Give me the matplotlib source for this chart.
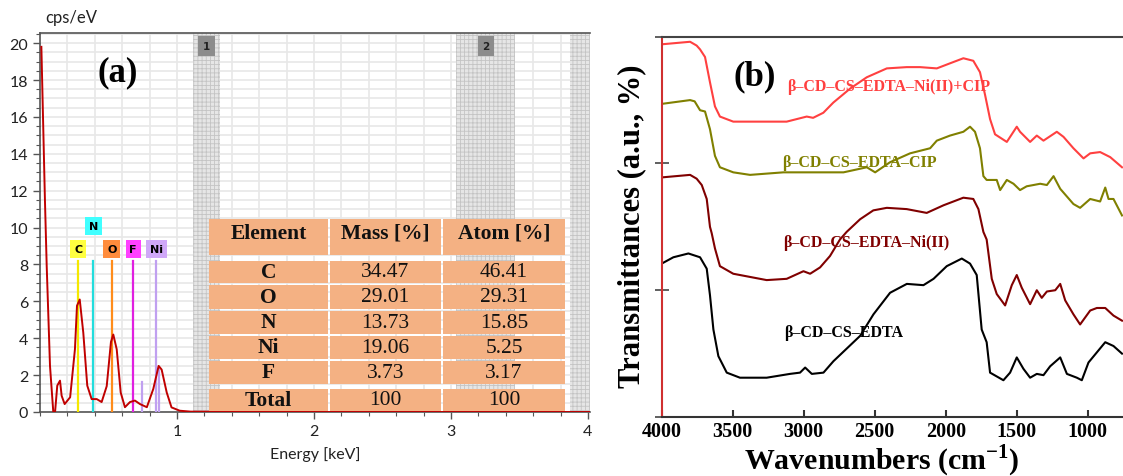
import matplotlib.pyplot as plt
from matplotlib.patches import Rectangle
import numpy as np

W, H = 1123, 477
SERIF = "Liberation Serif"
plt.rcParams["mathtext.fontset"] = "custom"
plt.rcParams["mathtext.rm"] = "Liberation Serif:bold"
plt.rcParams["mathtext.bf"] = "Liberation Serif:bold"
plt.rcParams["hatch.linewidth"] = 0.6

# ---- (a) EDS spectrum ----
eds_kev = [0.01, 0.036, 0.049, 0.073, 0.097, 0.11, 0.126, 0.146, 0.158, 0.18, 0.22,
           0.255, 0.27, 0.29, 0.316, 0.345, 0.377, 0.414, 0.45, 0.487, 0.518, 0.535,
           0.56, 0.589, 0.62, 0.657, 0.693, 0.73, 0.78, 0.827, 0.866, 0.888, 0.925,
           0.96, 1.02, 1.1, 2.0, 4.05]
eds_cps = [19.8, 11.5, 7.9, 2.5, 0.0, 0.0, 1.43, 1.7, 0.88, 0.43, 0.8,
           3.4, 5.76, 6.1, 4.3, 1.43, 0.7, 0.7, 0.54, 1.4, 3.8, 4.2,
           3.4, 1.06, 0.26, 0.54, 0.62, 0.43, 0.26, 1.25, 2.5, 2.3, 1.06,
           0.25, 0.07, 0.02, 0.0, 0.0]

elem_names = ["C", "N", "O", "F", "Ni"]
elem_kev = [0.28, 0.39, 0.525, 0.68, 0.85]
elem_label_y = [8.83, 10.1, 8.83, 8.83, 8.83]
elem_colors = ["#ffff40", "#40ffff", "#ff8c3c", "#ff40ff", "#d0a8f8"]
line_colors = ["#f5e800", "#22dddd", "#ff8c1a", "#e020e0", "#c0a0f0"]
ni_minor_kev = [0.745, 0.87]
ni_minor_h = [1.6, 2.4]

bands = [(1.115, 1.315), (3.04, 3.47), (3.87, 4.05)]
band_labels = ["1", "2"]

tbl_header = ["Element", "Mass [%]", "Atom [%]"]
tbl_elements = ["C", "O", "N", "Ni", "F", "Total"]
tbl_mass = ["34.47", "29.01", "13.73", "19.06", "3.73", "100"]
tbl_atom = ["46.41", "29.31", "15.85", "5.25", "3.17", "100"]

# ---- (b) FTIR ----
ftir_red_x = [4000, 3800, 3754, 3730, 3695, 3660, 3625, 3590, 3496, 3261, 3120, 2979,
              2934, 2862, 2792, 2674, 2556, 2415, 2275, 2181, 2063, 1970, 1876, 1806,
              1759, 1723, 1688, 1653, 1570, 1500, 1477, 1406, 1359, 1312, 1218, 1171,
              1101, 1030, 983, 913, 842, 759]
ftir_red_y = [2.94, 2.96, 2.93, 2.90, 2.84, 2.64, 2.45, 2.37, 2.33, 2.33, 2.33, 2.37,
              2.36, 2.40, 2.48, 2.59, 2.68, 2.75, 2.76, 2.76, 2.75, 2.79, 2.83, 2.81,
              2.72, 2.54, 2.35, 2.23, 2.17, 2.29, 2.25, 2.17, 2.22, 2.18, 2.25, 2.21,
              2.12, 2.04, 2.08, 2.09, 2.05, 1.97]

ftir_olive_x = [4000, 3800, 3768, 3730, 3695, 3660, 3625, 3590, 3496, 3378, 3143, 2908,
                2720, 2556, 2497, 2392, 2251, 2110, 2063, 1970, 1876, 1829, 1794, 1759,
                1735, 1712, 1641, 1617, 1570, 1523, 1477, 1430, 1382, 1335, 1288, 1241,
                1194, 1101, 1054, 983, 913, 877, 854, 819, 759]
ftir_olive_y = [2.47, 2.50, 2.49, 2.42, 2.41, 2.27, 2.06, 1.97, 1.93, 1.91, 1.93, 1.93,
                1.93, 1.97, 1.93, 2.01, 2.08, 2.12, 2.18, 2.22, 2.25, 2.29, 2.25, 2.12,
                1.90, 1.87, 1.87, 1.79, 1.87, 1.84, 1.79, 1.82, 1.83, 1.84, 1.83, 1.90,
                1.80, 1.68, 1.65, 1.72, 1.70, 1.81, 1.72, 1.72, 1.59]

ftir_dred_x = [4000, 3800, 3754, 3718, 3683, 3660, 3648, 3625, 3590, 3496, 3261, 3120,
               3002, 2955, 2885, 2815, 2745, 2698, 2603, 2510, 2415, 2275, 2134, 2016,
               1876, 1806, 1770, 1735, 1712, 1676, 1641, 1582, 1535, 1500, 1465, 1406,
               1359, 1324, 1288, 1229, 1194, 1159, 1101, 1054, 983, 936, 877, 819, 759]
ftir_dred_y = [1.89, 1.91, 1.88, 1.83, 1.72, 1.50, 1.45, 1.33, 1.19, 1.13, 1.08, 1.09,
               1.15, 1.13, 1.18, 1.27, 1.40, 1.46, 1.56, 1.63, 1.65, 1.64, 1.61, 1.67,
               1.73, 1.72, 1.64, 1.46, 1.40, 1.09, 0.97, 0.88, 1.04, 1.12, 1.02, 0.89,
               1.00, 0.94, 0.99, 1.00, 1.05, 0.92, 0.81, 0.73, 0.84, 0.86, 0.86, 0.80, 0.76]

ftir_black_x = [4000, 3918, 3812, 3730, 3683, 3660, 3636, 3601, 3542, 3449, 3261, 3097,
                3026, 2990, 2943, 2861, 2791, 2697, 2603, 2509, 2392, 2274, 2157, 2086,
                1993, 1887, 1829, 1782, 1747, 1712, 1688, 1594, 1547, 1500, 1453, 1406,
                1359, 1312, 1265, 1194, 1147, 1077, 1042, 995, 936, 877, 819, 759]
ftir_black_y = [1.21, 1.26, 1.29, 1.26, 1.17, 0.96, 0.69, 0.48, 0.35, 0.31, 0.31, 0.34,
                0.35, 0.39, 0.34, 0.35, 0.44, 0.54, 0.64, 0.81, 0.98, 1.05, 1.04, 1.09,
                1.19, 1.25, 1.21, 1.12, 0.69, 0.59, 0.35, 0.29, 0.35, 0.47, 0.38, 0.31,
                0.34, 0.33, 0.40, 0.47, 0.34, 0.31, 0.29, 0.43, 0.51, 0.59, 0.56, 0.50]

ftir_labels = ["β–CD–CS–EDTA–Ni(II)+CIP", "β–CD–CS–EDTA–CIP", "β–CD–CS–EDTA–Ni(II)", "β–CD–CS–EDTA"]
ftir_label_pos = [(3118, 2.61), (3153, 2.01), (3146, 1.38), (3139, 0.67)]
ftir_colors = ["#ff4040", "#808000", "#800000", "#000000"]


def frac(x0, y0, x1, y1):
    return [x0 / W, 1 - y1 / H, (x1 - x0) / W, (y1 - y0) / H]


fig = plt.figure(figsize=(W / 100, H / 100), dpi=100)

# ================= panel (a) =================
ax = fig.add_axes(frac(40, 34, 590, 413))
ax.set_xlim(0, 4.015)
ax.set_ylim(0, 20.55)
for x0, x1 in bands:
    ax.axvspan(x0, x1, facecolor="#e6e6e6", edgecolor="#c4c4c4", hatch="++++", lw=0, zorder=1)
for lab, (x0, x1) in zip(band_labels, bands):
    ax.text((x0 + x1) / 2, 19.85, lab, ha="center", va="center", fontsize=7.5,
            fontweight="bold", color="#222222", zorder=5,
            bbox=dict(boxstyle="square,pad=0.45", fc="#8c8c8c", ec="none"))
ax.set_xticks(np.arange(0, 4.01, 0.2), minor=True)
ax.set_yticks(np.arange(0, 20.6, 0.5), minor=True)
ax.set_xticks([1, 2, 3, 4])
ax.set_yticks(np.arange(0, 21, 2))
ax.grid(which="both", color="#e8e8e8", lw=1.2, zorder=0)
ax.set_axisbelow(True)

for name, k, ly, c, lc in zip(elem_names, elem_kev, elem_label_y, elem_colors, line_colors):
    ax.plot([k, k], [0, 8.2], color=lc, lw=1.6, zorder=3)
    ax.text(k, ly, name, ha="center", va="center", fontsize=8, fontweight="bold",
            zorder=5, bbox=dict(boxstyle="square,pad=0.35", fc=c, ec="none"))
for k, h in zip(ni_minor_kev, ni_minor_h):
    ax.plot([k, k], [0, h], color=line_colors[-1], lw=1.6, zorder=3)

ax.plot(eds_kev, eds_cps, color="#c00000", lw=1.4, zorder=4)

ax.spines["right"].set_visible(False)
for s in ["left", "top", "bottom"]:
    ax.spines[s].set_color("#555555")
    ax.spines[s].set_linewidth(1.2)
ax.tick_params(which="major", direction="out", length=5, width=1, color="#555555",
               labelsize=11.5, labelcolor="#222222")
ax.tick_params(which="minor", direction="out", length=3, width=0.8, color="#555555")
for t in ax.get_xticklabels() + ax.get_yticklabels():
    t.set_family("Lato")
ax.set_xlabel("Energy [keV]", fontsize=11.5, family="Lato", color="#222222", labelpad=6)
fig.text(45 / W, 1 - 18 / H, "cps/eV", fontsize=12, family="Lato", color="#222222",
         va="center", ha="left")
ax.text(0.142, 0.897, "(a)", transform=ax.transAxes, ha="center", va="center",
        fontsize=25, fontweight="bold", family=SERIF, zorder=6)

# table overlay in pixel space
ov = fig.add_axes([0, 0, 1, 1])
ov.set_xlim(0, W)
ov.set_ylim(H, 0)
ov.axis("off")
col_edges = [208, 329, 442, 566]
row_spans = [(220, 256), (262, 284), (286, 310), (312, 335), (337, 360), (362, 385), (390, 412)]
rows = [tbl_header] + [[e, m, a] for e, m, a in zip(tbl_elements, tbl_mass, tbl_atom)]
for r, (y0, y1) in enumerate(row_spans):
    for c in range(3):
        x0, x1 = col_edges[c], col_edges[c + 1]
        ov.add_patch(Rectangle((x0 + 1, y0), x1 - x0 - 2, y1 - y0, fc="#f4b183", ec="none"))
        bold = (r == 0) or (c == 0)
        yc = (y0 + y1) / 2 - (4 if r == 0 else 0)
        ov.text((x0 + x1) / 2, yc, rows[r][c], ha="center", va="center", fontsize=15.5,
                family=SERIF, fontweight="bold" if bold else "normal", color="#111111")

# ================= panel (b) =================
bx = fig.add_axes(frac(661.7, 37.7, 1123, 418))
bx.set_xlim(4000, 752)
bx.set_ylim(0, 3)
series = [(ftir_red_x, ftir_red_y), (ftir_olive_x, ftir_olive_y),
          (ftir_dred_x, ftir_dred_y), (ftir_black_x, ftir_black_y)]
for (xs, ys), c in zip(series, ftir_colors):
    bx.plot(xs, ys, color=c, lw=1.5)
for lab, (lx, ly), c in zip(ftir_labels, ftir_label_pos, ftir_colors):
    bx.text(lx, ly, lab, color=c, fontsize=11.5, fontweight="bold", family=SERIF,
            ha="left", va="center")
bx.set_xticks(np.arange(4000, 999, -500))
bx.set_yticks([0, 1, 2, 3])
bx.set_yticklabels([])
bx.spines["right"].set_visible(False)
bx.spines["left"].set_color("#d03030")
bx.spines["bottom"].set_color("#333333")
bx.spines["top"].set_color("#444444")
for s in ["left", "bottom", "top"]:
    bx.spines[s].set_linewidth(1.5)
bx.tick_params(axis="y", direction="inout", length=10, width=1.2, color="#444444")
bx.tick_params(axis="x", direction="in", length=5, width=1.5, color="#333333",
               labelsize=14.5, pad=3)
for t in bx.get_xticklabels():
    t.set_family(SERIF)
    t.set_fontweight("bold")
fig.text(882 / W, 1 - 470 / H, "Wavenumbers (cm$^{\\mathbf{-1}}$)", ha="center",
         va="baseline", fontsize=21.5, fontweight="bold", family=SERIF)
fig.text(632 / W, 1 - 226 / H, "Transmittances (a.u., %)", rotation=90, ha="center",
         va="center", fontsize=22, fontweight="bold", family=SERIF)
bx.text(0.202, 0.897, "(b)", transform=bx.transAxes, ha="center", va="center",
        fontsize=25, fontweight="bold", family=SERIF)

fig.savefig("out.png", dpi=100)
